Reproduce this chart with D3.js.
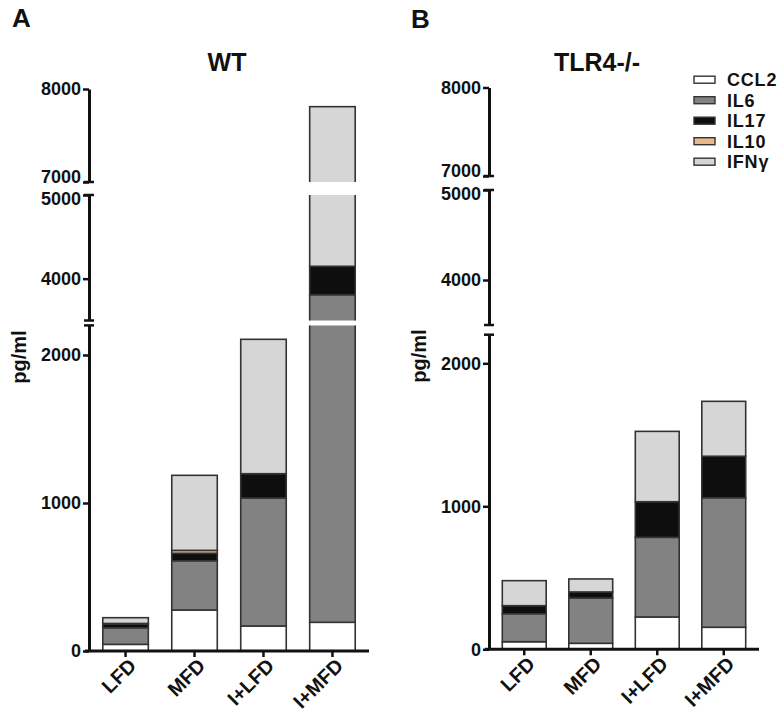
<!DOCTYPE html>
<html>
<head>
<meta charset="utf-8">
<script src="https://cdn.jsdelivr.net/npm/d3@7/dist/d3.min.js"></script>
<style>
  html, body { margin: 0; padding: 0; background: #fff; }
  svg text { font-family: "Liberation Sans", Arial, Helvetica, sans-serif; font-weight: bold; fill: #111; }
</style>
</head>
<body>
<svg id="chart" width="781" height="728"></svg>
<script>
// ---------- DATA ----------
const categories = ["LFD", "MFD", "I+LFD", "I+MFD"];
const cytokines = ["CCL2", "IL6", "IL17", "IL10", "IFNγ"];
const cytokineColors = ["#ffffff", "#828282", "#0e0e0e", "#e9b98b", "#d6d6d6"];

// WT panel (pg/ml)
const wtCCL2 = [45, 277, 169, 194];
const wtIL6  = [112, 333, 865, 3614];
const wtIL17 = [25, 50, 164, 340];
const wtIL10 = [4, 20, 0, 0];
const wtIFNg = [39, 507, 908, 3662];

// TLR4-/- panel (pg/ml)
const koCCL2 = [53, 42, 226, 154];
const koIL6  = [196, 317, 557, 906];
const koIL17 = [56, 42, 249, 290];
const koIL10 = [0, 0, 0, 0];
const koIFNg = [175, 91, 492, 384];

// broken-axis segments (value domains) and tick labels
const segDomains = [[7000, 8000], [3500, 5000], [0, 2200]];
const segTicks = [[7000, 8000], [4000, 5000], [0, 1000, 2000]];

// ---------- BUILD ----------
function toRows(c, i6, i17, i10, ifn) {
  return categories.map((cat, k) => ({
    cat, "CCL2": c[k], "IL6": i6[k], "IL17": i17[k], "IL10": i10[k], "IFNγ": ifn[k]
  }));
}

const panels = [
  { letter: "A", title: "WT", rows: toRows(wtCCL2, wtIL6, wtIL17, wtIL10, wtIFNg),
    axisX: 89, xEnd: 369, letterX: 12, letterY: 27, titleX: 227,
    segPx: [[182, 89], [320.5, 195], [651, 325.4]], labelX: 19, labelY: 357 },
  { letter: "B", title: "TLR4-/-", rows: toRows(koCCL2, koIL6, koIL17, koIL10, koIFNg),
    axisX: 489, xEnd: 759, letterX: 411, letterY: 28, titleX: 597,
    segPx: [[176, 87.5], [325, 190], [649.3, 334.7]], labelX: 419, labelY: 356 }
];

const svg = d3.select("#chart");
const stack = d3.stack().keys(cytokines);
const color = d3.scaleOrdinal().domain(cytokines).range(cytokineColors);

panels.forEach((p, pi) => {
  const g = svg.append("g");
  const x = d3.scaleBand().domain(categories).range([p.axisX, p.xEnd])
    .paddingInner(0.34).paddingOuter(0.2);
  const series = stack(p.rows);

  // panel letter and title
  g.append("text").attr("x", p.letterX).attr("y", p.letterY)
    .style("font-size", "26px").text(p.letter);
  g.append("text").attr("x", p.titleX).attr("y", 71).attr("text-anchor", "middle")
    .style("font-size", "25px").text(p.title);

  segDomains.forEach((dom, si) => {
    const px = p.segPx[si];
    const y = d3.scaleLinear().domain(dom).range(px);
    const clipId = `clip-${pi}-${si}`;
    g.append("clipPath").attr("id", clipId).append("rect")
      .attr("x", p.axisX).attr("width", p.xEnd - p.axisX)
      .attr("y", px[1]).attr("height", px[0] - px[1]);

    const bars = g.append("g").attr("clip-path", `url(#${clipId})`);
    bars.selectAll("g").data(series).join("g")
      .attr("fill", d => color(d.key))
      .selectAll("rect").data(d => d.filter(v => v[1] - v[0] > 0)).join("rect")
      .attr("x", d => x(d.data.cat))
      .attr("width", x.bandwidth())
      .attr("y", d => y(d[1]))
      .attr("height", d => y(d[0]) - y(d[1]))
      .attr("stroke", "#333")
      .attr("stroke-width", 1.6);

    // axis for this segment
    const ax = g.append("g").attr("transform", `translate(${p.axisX},0)`)
      .call(d3.axisLeft(y).tickValues(segTicks[si]).tickFormat(d3.format("d"))
        .tickSize(6).tickSizeOuter(0).tickPadding(2));
    ax.select(".domain").attr("stroke", "#111").attr("stroke-width", 3);
    ax.selectAll(".tick line").attr("stroke", "#111").attr("stroke-width", 2.5);
    ax.selectAll(".tick text").style("font-size", "18px").attr("fill", "#111")
      .attr("dy", d => d === 7000 ? "0.05em" : d === 5000 ? "0.55em" : "0.32em");

    // break caps
    if (si > 0) {
      g.append("line").attr("x1", p.axisX - 5).attr("x2", p.axisX + 5)
        .attr("y1", px[1]).attr("y2", px[1]).attr("stroke", "#111").attr("stroke-width", 2.5);
    }
    if (si < segDomains.length - 1) {
      g.append("line").attr("x1", p.axisX - 5).attr("x2", p.axisX + 5)
        .attr("y1", px[0]).attr("y2", px[0]).attr("stroke", "#111").attr("stroke-width", 2.5);
    }
  });

  // x axis
  const y0 = p.segPx[2][0];
  const xa = g.append("g").attr("transform", `translate(0,${y0})`)
    .call(d3.axisBottom(x).tickSize(6).tickSizeOuter(0));
  xa.select(".domain").attr("stroke", "#111").attr("stroke-width", 3)
    .attr("d", `M${p.axisX - 4},0H${p.xEnd}`);
  xa.selectAll(".tick line").attr("stroke", "#111").attr("stroke-width", 2.5);
  xa.selectAll(".tick text")
    .style("font-size", "20px")
    .attr("text-anchor", "end")
    .attr("dy", 0).attr("y", 0)
    .attr("transform", "translate(12,16) rotate(-45)");

  // y label
  g.append("text")
    .attr("transform", `translate(${p.labelX + 7},${p.labelY}) rotate(-90)`)
    .attr("text-anchor", "middle")
    .style("font-size", "20px").text("pg/ml");
});

// legend
const legend = svg.append("g");
cytokines.forEach((k, i) => {
  const yy = 79.7 + i * 20.5;
  legend.append("rect").attr("x", 694).attr("y", yy - 3.5).attr("width", 21).attr("height", 7)
    .attr("fill", color(k)).attr("stroke", "#333").attr("stroke-width", 1.4);
  legend.append("text").attr("x", 727).attr("y", yy + 6.5)
    .style("font-size", "18px").style("letter-spacing", "0.8px").text(k);
});
</script>
</body>
</html>
